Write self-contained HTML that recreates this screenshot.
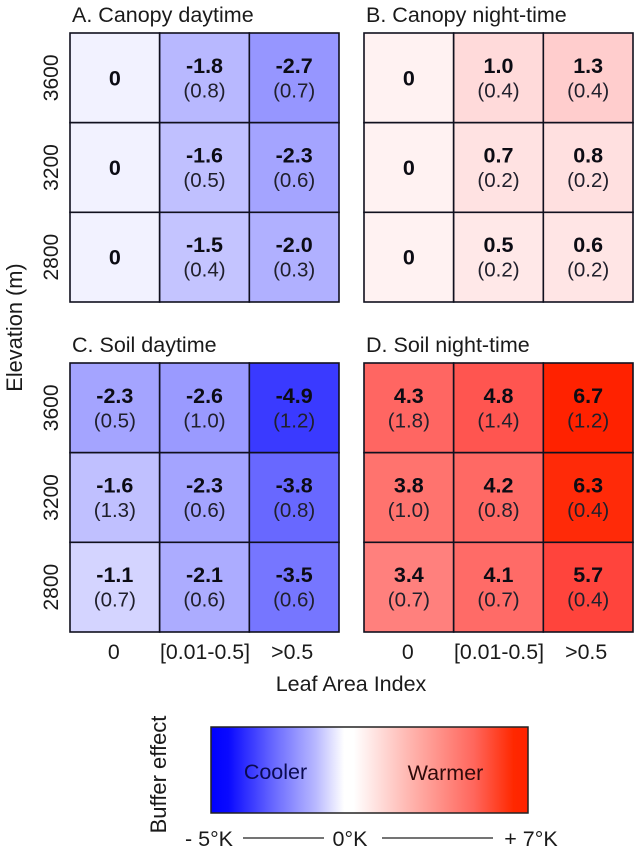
<!DOCTYPE html>
<html>
<head>
<meta charset="utf-8">
<title>Buffer effect heatmaps</title>
<style>
html,body{margin:0;padding:0;background:#fff;width:641px;height:853px;overflow:hidden}
svg{display:block;font-family:"Liberation Sans",Arial,sans-serif}
</style>
</head>
<body>
<svg id="chart" width="641" height="853" viewBox="0 0 641 853" xmlns="http://www.w3.org/2000/svg">
<defs>
<linearGradient id="cb" x1="0" x2="1" y1="0" y2="0">
<stop offset="0" stop-color="#0000ff"/>
<stop offset="0.055" stop-color="#0a0aff"/>
<stop offset="0.2" stop-color="#6a6aff"/>
<stop offset="0.33" stop-color="#b8b8ff"/>
<stop offset="0.42" stop-color="#ffffff"/>
<stop offset="0.45" stop-color="#ffffff"/>
<stop offset="0.62" stop-color="#ffb8b2"/>
<stop offset="0.83" stop-color="#ff665c"/>
<stop offset="0.955" stop-color="#ff2800"/>
<stop offset="1" stop-color="#ff2200"/>
</linearGradient>
</defs>
<g id="panels"></g>
<text transform="translate(22,327.5) rotate(-90)" text-anchor="middle" font-size="21.8" fill="#1a1a1a">Elevation (m)</text>
<text x="351" y="691" text-anchor="middle" font-size="21.5" fill="#1a1a1a">Leaf Area Index</text>
<g>
<rect x="211" y="727" width="317" height="86" fill="url(#cb)" stroke="#222" stroke-width="1.5"/>
<text x="275.5" y="779" text-anchor="middle" font-size="21.5" fill="#0a0a50">Cooler</text>
<text x="445.5" y="780" text-anchor="middle" font-size="21.5" fill="#300a0a">Warmer</text>
<text transform="translate(166,774.5) rotate(-90)" text-anchor="middle" font-size="22" fill="#1a1a1a">Buffer effect</text>
<text x="209" y="846" text-anchor="middle" font-size="21.5" fill="#1a1a1a">- 5°K</text>
<line x1="243" x2="324" y1="838" y2="838" stroke="#222" stroke-width="1.3"/>
<text x="350" y="846" text-anchor="middle" font-size="21.5" fill="#1a1a1a">0°K</text>
<line x1="382" x2="493" y1="838" y2="838" stroke="#222" stroke-width="1.3"/>
<text x="531" y="846" text-anchor="middle" font-size="21.5" fill="#1a1a1a">+ 7°K</text>
</g>
</svg>
<script>
const elevations = [3600, 3200, 2800];
const laiCategories = ['0', '[0.01-0.5]', '>0.5'];
const panelTitles = ['A. Canopy daytime', 'B. Canopy night-time', 'C. Soil daytime', 'D. Soil night-time'];
const canopyDayValues = [[0, -1.8, -2.7], [0, -1.6, -2.3], [0, -1.5, -2.0]];
const canopyDayErrors = [[null, 0.8, 0.7], [null, 0.5, 0.6], [null, 0.4, 0.3]];
const canopyNightValues = [[0, 1.0, 1.3], [0, 0.7, 0.8], [0, 0.5, 0.6]];
const canopyNightErrors = [[null, 0.4, 0.4], [null, 0.2, 0.2], [null, 0.2, 0.2]];
const soilDayValues = [[-2.3, -2.6, -4.9], [-1.6, -2.3, -3.8], [-1.1, -2.1, -3.5]];
const soilDayErrors = [[0.5, 1.0, 1.2], [1.3, 0.6, 0.8], [0.7, 0.6, 0.6]];
const soilNightValues = [[4.3, 4.8, 6.7], [3.8, 4.2, 6.3], [3.4, 4.1, 5.7]];
const soilNightErrors = [[1.8, 1.4, 1.2], [1.0, 0.8, 0.4], [0.7, 0.7, 0.4]];

const NS = 'http://www.w3.org/2000/svg';
const root = document.getElementById('panels');
const PLOT = 269, CELL = PLOT / 3;
const layouts = [
  {x: 70, y: 33, leftAxis: true, bottomAxis: false, key: 'a'},
  {x: 364, y: 33, leftAxis: false, bottomAxis: false, key: 'b'},
  {x: 70, y: 363, leftAxis: true, bottomAxis: true, key: 'c'},
  {x: 364, y: 363, leftAxis: false, bottomAxis: true, key: 'd'}
];
const valueSets = [canopyDayValues, canopyNightValues, soilDayValues, soilNightValues];
const errorSets = [canopyDayErrors, canopyNightErrors, soilDayErrors, soilNightErrors];

function xScale(p, col) { return p.x + col * CELL; }
function yScale(p, row) { return p.y + row * CELL; }
function lerpStops(stops, v) {
  for (let i = 1; i < stops.length; i++) {
    if (v <= stops[i][0]) {
      const t = (v - stops[i - 1][0]) / (stops[i][0] - stops[i - 1][0]);
      return stops[i - 1][1] + t * (stops[i][1] - stops[i - 1][1]);
    }
  }
  return stops[stops.length - 1][1];
}
function cellColor(v, isNightPanel) {
  if (v < 0 || (v === 0 && !isNightPanel)) {
    const c = Math.round(lerpStops([[0, 242], [1.1, 212], [1.6, 192], [2.3, 164], [2.7, 150], [3.5, 118], [3.8, 104], [4.9, 58], [5, 0]], -v));
    return 'rgb(' + c + ',' + c + ',255)';
  }
  const g = lerpStops([[0, 242], [0.5, 232], [1.0, 218], [1.3, 205], [3.4, 128], [3.8, 115], [4.3, 102], [4.8, 85], [5.7, 68], [6.3, 42], [6.7, 34], [7, 30]], v);
  const b = lerpStops([[0, 242], [0.5, 232], [1.0, 218], [1.3, 205], [3.4, 125], [3.8, 110], [4.3, 98], [4.8, 80], [5.7, 60], [6.3, 8], [6.7, 0], [7, 0]], v);
  return 'rgb(255,' + Math.round(g) + ',' + Math.round(b) + ')';
}
function svgText(parent, x, y, str, size, weight, fill, anchor) {
  const t = document.createElementNS(NS, 'text');
  t.setAttribute('x', x);
  t.setAttribute('y', y);
  t.setAttribute('font-size', size);
  t.setAttribute('font-weight', weight);
  t.setAttribute('fill', fill);
  t.setAttribute('text-anchor', anchor);
  t.textContent = str;
  parent.appendChild(t);
  return t;
}
layouts.forEach(function (p, pi) {
  const g = document.createElementNS(NS, 'g');
  
  
  root.appendChild(g);

  const title = svgText(g, p.x + 2, p.y - 11, panelTitles[pi], 21.5, 'normal', '#1a1a1a', 'start');
  
  

  const isNight = pi === 1 || pi === 3;
  elevations.forEach(function (elev, r) {
    laiCategories.forEach(function (cat, c) {
      const v = valueSets[pi][r][c];
      const rect = document.createElementNS(NS, 'rect');
      rect.setAttribute('x', xScale(p, c));
      rect.setAttribute('y', yScale(p, r));
      rect.setAttribute('width', CELL);
      rect.setAttribute('height', CELL);
      rect.setAttribute('fill', cellColor(v, isNight));
      rect.setAttribute('stroke', '#10101e');
      rect.setAttribute('stroke-width', '1.6');
      
      
      g.appendChild(rect);
    });
  });
  elevations.forEach(function (elev, r) {
    laiCategories.forEach(function (cat, c) {
      const v = valueSets[pi][r][c];
      const e = errorSets[pi][r][c];
      const cx = xScale(p, c) + CELL / 2;
      const cy = yScale(p, r) + CELL / 2;
      const label = v === 0 ? '0' : v.toFixed(1);
      const vt = svgText(g, cx, e === null ? cy + 7.5 : cy - 5, label, 21.5, 'bold', '#0c0c14', 'middle');
      
      
      if (e !== null) {
        const et = svgText(g, cx, cy + 19.5, '(' + e.toFixed(1) + ')', 20.5, 'normal', '#20202c', 'middle');
        
        
      }
    });
    if (p.leftAxis) {
      const ty = yScale(p, r) + CELL / 2;
      const tick = svgText(g, 0, 0, String(elev), 21, 'normal', '#1a1a1a', 'middle');
      tick.setAttribute('transform', 'translate(58,' + ty + ') rotate(-90)');
      
      
    }
  });
  if (p.bottomAxis) {
    laiCategories.forEach(function (cat, c) {
      const shift = c === 0 ? -1 : (c === 2 ? -2 : 0.5);
      const tick = svgText(g, xScale(p, c) + CELL / 2 + shift, p.y + PLOT + 27, cat, 21.3, 'normal', '#1a1a1a', 'middle');
      
      
    });
  }
});
</script>
</body>
</html>
